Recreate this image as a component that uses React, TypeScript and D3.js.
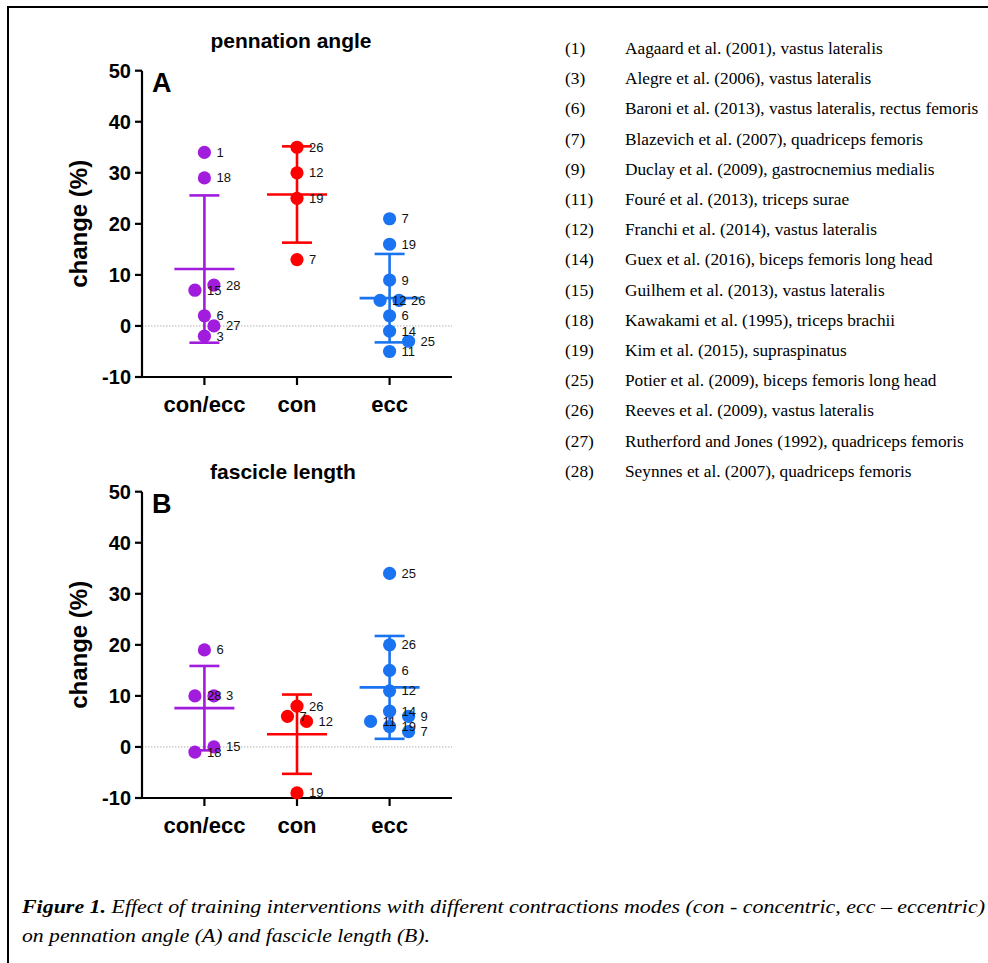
import React from 'react';
import * as d3 from 'd3';

// Group categories and axis ticks
const categories = ['con/ecc', 'con', 'ecc'];
const yTicks = [-10, 0, 10, 20, 30, 40, 50];
const groupColors = ['#A11CDC', '#FF0000', '#1A73F0'];

// Pennation angle change (%) per study, panel A
const pennConEccStudies = [1, 18, 28, 15, 6, 27, 3];
const pennConEccValues = [34, 29, 8, 7, 2, 0, -2];
const pennConStudies = [26, 12, 19, 7];
const pennConValues = [35, 30, 25, 13];
const pennEccStudies = [7, 19, 9, 26, 12, 6, 14, 25, 11];
const pennEccValues = [21, 16, 9, 5, 5, 2, -1, -3, -5];

// Fascicle length change (%) per study, panel B
const fascConEccStudies = [6, 3, 28, 15, 18];
const fascConEccValues = [19, 10, 10, 0, -1];
const fascConStudies = [26, 7, 12, 19];
const fascConValues = [8, 6, 5, -9];
const fascEccStudies = [25, 26, 6, 12, 14, 9, 11, 19, 7];
const fascEccValues = [34, 20, 15, 11, 7, 6, 5, 4, 3];

// Study reference list
const legendIds = [1, 3, 6, 7, 9, 11, 12, 14, 15, 18, 19, 25, 26, 27, 28];
const legendRefs = [
  'Aagaard et al. (2001), vastus lateralis',
  'Alegre et al. (2006), vastus lateralis',
  'Baroni et al. (2013), vastus lateralis, rectus femoris',
  'Blazevich et al. (2007), quadriceps femoris',
  'Duclay et al. (2009), gastrocnemius medialis',
  'Fouré et al. (2013), triceps surae',
  'Franchi et al. (2014), vastus lateralis',
  'Guex et al. (2016), biceps femoris long head',
  'Guilhem et al. (2013), vastus lateralis',
  'Kawakami et al. (1995), triceps brachii',
  'Kim et al. (2015), supraspinatus',
  'Potier et al. (2009), biceps femoris long head',
  'Reeves et al. (2009), vastus lateralis',
  'Rutherford and Jones (1992), quadriceps femoris',
  'Seynnes et al. (2007), quadriceps femoris',
];

const SANS = '"Liberation Sans", Arial, Helvetica, sans-serif';
const SERIF = '"Liberation Serif", "Times New Roman", serif';

const LABEL_DX = 12;
const LABEL_SIZE = 13;
const DIGIT_W = 7.3;
const LABEL_H = 13;

type Group = { studies: number[]; values: number[] };

// Scatter layout: points chained within one dot diameter form a cluster.
// Each point takes the first free slot (centre, right, left, ...) where its
// dot and its study label clear everything already placed.
function swarm(ys: number[], labels: string[], diameter: number, step: number): number[] {
  const order = d3.range(ys.length).sort((a, b) => ys[a] - ys[b] || a - b);
  const offsets = new Array(ys.length).fill(0);
  const placed: number[] = [];
  const clusters: number[][] = [];
  order.forEach((idx, i) => {
    if (i === 0 || ys[idx] - ys[order[i - 1]] >= diameter) clusters.push([]);
    clusters[clusters.length - 1].push(idx);
  });
  const minDist = diameter - 1;
  const fits = (idx: number, off: number) => {
    const lx0 = off + LABEL_DX;
    const lx1 = lx0 + labels[idx].length * DIGIT_W;
    for (const j of placed) {
      const dx = offsets[j] - off;
      const dy = ys[j] - ys[idx];
      if (Math.hypot(dx, dy) < minDist) return false;
      const jx0 = offsets[j] + LABEL_DX;
      const jx1 = jx0 + labels[j].length * DIGIT_W;
      if (Math.abs(dy) < LABEL_H && lx0 < jx1 && jx0 < lx1) return false;
    }
    return true;
  };
  clusters.forEach((cl) => {
    const slots: number[] = [];
    if (cl.length % 2 === 1) slots.push(0);
    for (let k = 1; k <= 4; k++) slots.push(k * step, -k * step);
    if (cl.length % 2 === 0) slots.push(0);
    cl.forEach((idx) => {
      const off = slots.find((s) => fits(idx, s));
      offsets[idx] = off === undefined ? 0 : off;
      placed.push(idx);
    });
  });
  return offsets;
}

function Panel(props: {
  top: number;
  title: string;
  titleX: number;
  titleY: number;
  letter: string;
  groups: Group[];
}) {
  const { top, title, titleX, titleY, letter, groups } = props;
  const left = 142;
  const right = 452;
  const y = d3.scaleLinear().domain([-10, 50]).range([top + 306.3, top]);
  const x = d3.scalePoint<string>().domain(categories).range([left, right]).padding(0.674);
  const bottom = y(-10);
  const r = 6.6;

  return (
    <g>
      <text x={titleX} y={titleY} textAnchor="middle" dominantBaseline="central"
        fontFamily={SANS} fontWeight="bold" fontSize={21}>{title}</text>
      <text x={152} y={top + 21} fontFamily={SANS} fontWeight="bold" fontSize={27}>{letter}</text>
      <text transform={`translate(78,${(top + bottom) / 2}) rotate(-90)`} textAnchor="middle"
        dominantBaseline="central" fontFamily={SANS} fontWeight="bold" fontSize={24}>change (%)</text>

      {/* zero reference */}
      <line x1={left} x2={right} y1={y(0)} y2={y(0)} stroke="#b0b0b0" strokeWidth={1} strokeDasharray="1.5,1.5" />

      {/* y axis */}
      <line x1={left} x2={left} y1={y(50)} y2={bottom + 1} stroke="#000" strokeWidth={2.2} />
      {yTicks.map((t) => (
        <g key={t}>
          <line x1={left - 7} x2={left} y1={y(t)} y2={y(t)} stroke="#000" strokeWidth={2.2} />
          <text x={131} y={y(t)} textAnchor="end" dominantBaseline="central"
            fontFamily={SANS} fontWeight="bold" fontSize={20}>{t}</text>
        </g>
      ))}

      {/* x axis */}
      <line x1={left} x2={right} y1={bottom} y2={bottom} stroke="#000" strokeWidth={2.2} />
      {categories.map((c) => (
        <g key={c}>
          <line x1={x(c)} x2={x(c)} y1={bottom} y2={bottom + 8} stroke="#000" strokeWidth={2.2} />
          <text x={x(c)} y={bottom + 27} textAnchor="middle" dominantBaseline="central"
            fontFamily={SANS} fontWeight="bold" fontSize={22}>{c}</text>
        </g>
      ))}

      {groups.map((g, gi) => {
        const cx = x(categories[gi]) as number;
        const color = groupColors[gi];
        const ys = g.values.map((v) => y(v));
        const labels = g.studies.map(String);
        const offs = swarm(ys, labels, 13, 9.5);
        const m = d3.mean(g.values) as number;
        const sd = d3.deviation(g.values) as number;
        return (
          <g key={gi}>
            {g.values.map((v, i) => (
              <circle key={i} cx={cx + offs[i]} cy={ys[i]} r={r} fill={color} />
            ))}
            <line x1={cx} x2={cx} y1={y(m + sd)} y2={y(m - sd)} stroke={color} strokeWidth={2.6} />
            <line x1={cx - 15} x2={cx + 15} y1={y(m + sd)} y2={y(m + sd)} stroke={color} strokeWidth={2.6} />
            <line x1={cx - 15} x2={cx + 15} y1={y(m - sd)} y2={y(m - sd)} stroke={color} strokeWidth={2.6} />
            <line x1={cx - 30} x2={cx + 30} y1={y(m)} y2={y(m)} stroke={color} strokeWidth={2.6} />
            {g.values.map((v, i) => (
              <text key={`l${i}`} x={cx + offs[i] + LABEL_DX} y={ys[i]} dominantBaseline="central"
                fontFamily={SANS} fontSize={LABEL_SIZE} fill="#111">{labels[i]}</text>
            ))}
          </g>
        );
      })}
    </g>
  );
}

export default function App() {
  const pennGroups: Group[] = [
    { studies: pennConEccStudies, values: pennConEccValues },
    { studies: pennConStudies, values: pennConValues },
    { studies: pennEccStudies, values: pennEccValues },
  ];
  const fascGroups: Group[] = [
    { studies: fascConEccStudies, values: fascConEccValues },
    { studies: fascConStudies, values: fascConValues },
    { studies: fascEccStudies, values: fascEccValues },
  ];

  return (
    <svg width={988} height={963} style={{ position: 'absolute', left: 0, top: 0, background: '#fff' }}>
      <rect x={0} y={0} width={988} height={963} fill="#fff" />
      {/* frame */}
      <line x1={7} x2={988} y1={7} y2={7} stroke="#000" strokeWidth={2} />
      <line x1={8} x2={8} y1={6} y2={963} stroke="#000" strokeWidth={2} />

      <Panel top={70.7} title="pennation angle" titleX={291} titleY={40} letter="A" groups={pennGroups} />
      <Panel top={491.7} title="fascicle length" titleX={283} titleY={471} letter="B" groups={fascGroups} />

      {/* study list */}
      {legendIds.map((id, i) => (
        <g key={id} fontFamily={SERIF} fontSize={17.3} fill="#000">
          <text x={565} y={54 + i * 30.2}>({id})</text>
          <text x={625} y={54 + i * 30.2}>{legendRefs[i]}</text>
        </g>
      ))}

      {/* caption */}
      <text x={22} y={913} fontFamily={SERIF} fontStyle="italic" fontSize={19}
        textLength={963} lengthAdjust="spacingAndGlyphs">
        <tspan fontWeight="bold">Figure 1.</tspan> Effect of training interventions with different contractions modes (con - concentric, ecc – eccentric)
      </text>
      <text x={22} y={942} fontFamily={SERIF} fontStyle="italic" fontSize={19}
        textLength={408} lengthAdjust="spacingAndGlyphs">
        on pennation angle (A) and fascicle length (B).
      </text>
    </svg>
  );
}
